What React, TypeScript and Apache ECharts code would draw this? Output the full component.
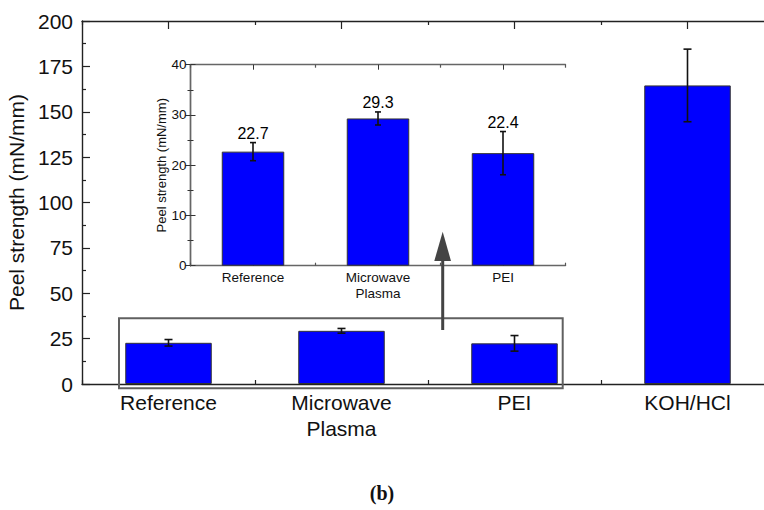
import React, { useEffect, useRef } from "react";
import * as echarts from "echarts";

// Peel strength per surface treatment (mN/mm): mean and standard deviation
const categories = ["Reference", "Microwave\nPlasma", "PEI", "KOH/HCl"];
const peelMeans = [22.7, 29.3, 22.4, 164.5];
const peelErrors = [1.8, 1.3, 4.3, 20];
// The inset zooms in on the first three treatments
const insetCount = 3;
const insetCategories = categories.slice(0, insetCount);
const insetMeans = peelMeans.slice(0, insetCount);
const insetErrors = peelErrors.slice(0, insetCount);

const mainAxis = { min: 0, max: 200, interval: 25 };
const insetAxis = { min: 0, max: 40, interval: 10 };

const FONT = "'Liberation Sans', Arial, Helvetica, sans-serif";
const BAR_BLUE = "#0000FF";

function errorData(means: number[], errs: number[]) {
  return means.map((m, i) => [i, m - errs[i], m + errs[i], m]);
}

function errorBarRenderer(capHalf: number) {
  return (params: any, api: any) => {
    const idx = api.value(0);
    const low = api.coord([idx, api.value(1)]);
    const high = api.coord([idx, api.value(2)]);
    const stroke = { stroke: "#111", lineWidth: 1.6 };
    return {
      type: "group",
      children: [
        { type: "line", shape: { x1: high[0], y1: high[1], x2: low[0], y2: low[1] }, style: stroke },
        { type: "line", shape: { x1: high[0] - capHalf, y1: high[1], x2: high[0] + capHalf, y2: high[1] }, style: stroke },
        { type: "line", shape: { x1: low[0] - capHalf, y1: low[1], x2: low[0] + capHalf, y2: low[1] }, style: stroke },
      ],
    };
  };
}

// Short ticks at category boundaries, drawn by a bare value axis
function boundaryAxis(gridIndex: number, position: "top" | "bottom", count: number, len: number, color: string) {
  return {
    type: "value",
    gridIndex,
    position,
    min: 0,
    max: count,
    interval: 1,
    axisLine: { show: false },
    axisLabel: { show: false },
    splitLine: { show: false },
    axisTick: { show: true, inside: true, length: len, lineStyle: { color, width: 1.2 } },
  };
}

export default function App() {
  const ref = useRef<HTMLDivElement>(null);

  useEffect(() => {
    if (!ref.current) return;
    const chart = echarts.init(ref.current, undefined, { renderer: "svg" });

    const mainLine = "#222";
    const insetLine = "#666";

    const option: any = {
      animation: false,
      backgroundColor: "#fff",
      grid: [
        { left: 82, top: 21, width: 692, height: 363, outerBoundsMode: "none", containLabel: false },
        { left: 190.5, top: 64.7, width: 375, height: 201, outerBoundsMode: "none", containLabel: false, show: true, backgroundColor: "#fff", borderWidth: 0 },
      ],
      xAxis: [
        // main grid
        {
          type: "category",
          gridIndex: 0,
          position: "bottom",
          data: categories,
          axisLine: { show: true, lineStyle: { color: mainLine, width: 1.4 } },
          axisTick: { show: true, inside: true, alignWithLabel: true, length: 8, lineStyle: { color: mainLine, width: 1.2 } },
          axisLabel: { fontSize: 21, fontFamily: FONT, color: "#111", margin: 5, lineHeight: 26 },
        },
        boundaryAxis(0, "bottom", categories.length, 4, mainLine),
        {
          type: "category",
          gridIndex: 0,
          position: "top",
          data: categories,
          axisLine: { show: true, lineStyle: { color: mainLine, width: 1.4 } },
          axisTick: { show: true, inside: true, alignWithLabel: true, length: 8, lineStyle: { color: mainLine, width: 1.2 } },
          axisLabel: { show: false },
        },
        boundaryAxis(0, "top", categories.length, 4, mainLine),
        // inset grid
        {
          type: "category",
          gridIndex: 1,
          position: "bottom",
          data: insetCategories,
          axisLine: { show: true, lineStyle: { color: insetLine, width: 1.4 } },
          axisTick: { show: true, inside: true, alignWithLabel: true, length: 5, lineStyle: { color: "#333", width: 1 } },
          axisLabel: { fontSize: 13.5, fontFamily: FONT, color: "#111", margin: 4, lineHeight: 16 },
        },
        boundaryAxis(1, "bottom", insetCount, 3, "#555"),
        {
          type: "category",
          gridIndex: 1,
          position: "top",
          data: insetCategories,
          axisLine: { show: true, lineStyle: { color: insetLine, width: 1.4 } },
          axisTick: { show: true, inside: true, alignWithLabel: true, length: 5, lineStyle: { color: "#333", width: 1 } },
          axisLabel: { show: false },
        },
        boundaryAxis(1, "top", insetCount, 3, "#555"),
      ],
      yAxis: [
        {
          type: "value",
          gridIndex: 0,
          position: "left",
          ...mainAxis,
          name: "Peel strength (mN/mm)",
          nameLocation: "middle",
          nameGap: 45,
          nameTextStyle: { fontSize: 21, fontFamily: FONT, color: "#111" },
          axisLine: { show: true, lineStyle: { color: mainLine, width: 1.4 } },
          axisTick: { show: true, inside: true, length: 8, lineStyle: { color: mainLine, width: 1.2 } },
          minorTick: { show: true, splitNumber: 2, length: 4, lineStyle: { color: mainLine, width: 1.2 } },
          axisLabel: { fontSize: 21, fontFamily: FONT, color: "#111", margin: 9 },
          splitLine: { show: false },
          minorSplitLine: { show: false },
        },
        {
          type: "value",
          gridIndex: 1,
          position: "left",
          ...insetAxis,
          name: "Peel strength (mN/mm)",
          nameLocation: "middle",
          nameGap: 20,
          nameTextStyle: { fontSize: 13, fontFamily: FONT, color: "#111" },
          axisLine: { show: true, lineStyle: { color: insetLine, width: 1.4 } },
          axisTick: { show: true, inside: true, length: 5, lineStyle: { color: "#333", width: 1 } },
          minorTick: { show: true, splitNumber: 2, length: 3, lineStyle: { color: "#333", width: 1 } },
          axisLabel: { fontSize: 13.5, fontFamily: FONT, color: "#111", margin: 4 },
          splitLine: { show: false },
          minorSplitLine: { show: false },
        },
        {
          type: "value",
          gridIndex: 1,
          position: "right",
          ...insetAxis,
          axisLine: { show: true, lineStyle: { color: insetLine, width: 1.4 } },
          axisTick: { show: true, inside: true, length: 5, lineStyle: { color: "#333", width: 1 } },
          minorTick: { show: true, splitNumber: 2, length: 3, lineStyle: { color: "#333", width: 1 } },
          axisLabel: { show: false },
          splitLine: { show: false },
          minorSplitLine: { show: false },
        },
      ],
      series: [
        {
          type: "bar",
          xAxisIndex: 0,
          yAxisIndex: 0,
          data: peelMeans,
          barWidth: "50%",
          itemStyle: { color: BAR_BLUE, borderColor: "#333", borderWidth: 1 },
          z: 2,
        },
        {
          type: "custom",
          xAxisIndex: 0,
          yAxisIndex: 0,
          data: errorData(peelMeans, peelErrors),
          encode: { x: 0, y: [1, 2] },
          renderItem: errorBarRenderer(4),
          z: 3,
        },
        {
          type: "bar",
          xAxisIndex: 4,
          yAxisIndex: 1,
          data: insetMeans,
          barWidth: "50%",
          itemStyle: { color: BAR_BLUE, borderColor: "#333", borderWidth: 1 },
          z: 2,
        },
        {
          type: "custom",
          xAxisIndex: 4,
          yAxisIndex: 1,
          data: errorData(insetMeans, insetErrors),
          encode: { x: 0, y: [1, 2] },
          renderItem: errorBarRenderer(3),
          z: 3,
        },
        // mean values printed just above each inset error bar
        {
          type: "scatter",
          xAxisIndex: 4,
          yAxisIndex: 1,
          symbolSize: 0,
          silent: true,
          data: insetMeans.map((m, i) => [i, m + insetErrors[i], m]),
          label: {
            show: true,
            position: "top",
            distance: 1,
            fontSize: 16,
            fontFamily: FONT,
            color: "#000",
            opacity: 1,
            formatter: (p: any) => Number(p.value[2]).toFixed(1),
          },
          z: 4,
        },
      ],
      graphic: [
        // frame around the magnified bars
        {
          type: "rect",
          z: 10,
          shape: { x: 119, y: 318.3, width: 443.7, height: 70 },
          style: { fill: "none", stroke: "#606060", lineWidth: 2 },
        },
        // arrow pointing up to the inset
        {
          type: "line",
          z: 10,
          shape: { x1: 442.7, y1: 330, x2: 442.7, y2: 256 },
          style: { stroke: "#444", lineWidth: 3 },
        },
        {
          type: "polygon",
          z: 10,
          shape: { points: [[442.7, 231.7], [434.3, 261], [451, 261]] },
          style: { fill: "#444" },
        },
        {
          type: "text",
          z: 10,
          x: 382,
          y: 493,
          style: {
            text: "(b)",
            fontSize: 20,
            fontWeight: "bold",
            fontFamily: "'Liberation Serif', 'DejaVu Serif', serif",
            fill: "#111",
            align: "center",
            verticalAlign: "middle",
          },
        },
      ],
    };

    chart.setOption(option);
    return () => chart.dispose();
  }, []);

  return (
    <div
      ref={ref}
      style={{ position: "fixed", left: 0, top: 0, width: 764, height: 510, background: "#fff" }}
    />
  );
}
